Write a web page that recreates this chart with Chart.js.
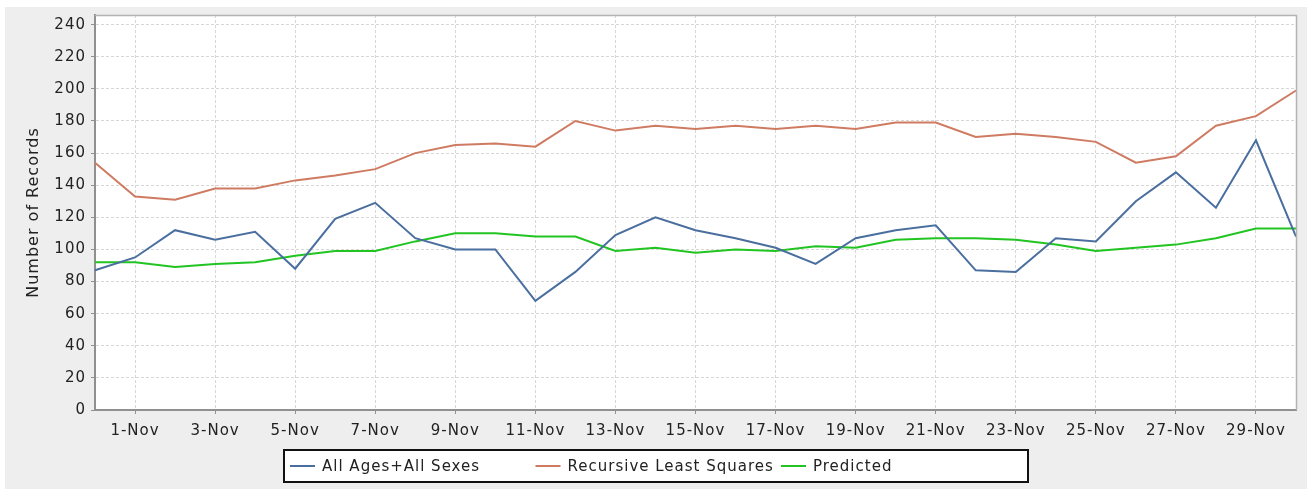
<!DOCTYPE html>
<html>
<head>
<meta charset="utf-8">
<script src="https://cdn.jsdelivr.net/npm/chart.js@4/dist/chart.umd.min.js"></script>
<style>
  html, body { margin: 0; padding: 0; background: #ffffff; }
  #wrap { position: absolute; left: 5px; top: 7px; width: 1302px; height: 482px; }
</style>
</head>
<body>
<div id="wrap"><canvas id="c"></canvas></div>
<script>
const categories = ['31-Oct','1-Nov','2-Nov','3-Nov','4-Nov','5-Nov','6-Nov','7-Nov','8-Nov','9-Nov','10-Nov',
  '11-Nov','12-Nov','13-Nov','14-Nov','15-Nov','16-Nov','17-Nov','18-Nov','19-Nov','20-Nov',
  '21-Nov','22-Nov','23-Nov','24-Nov','25-Nov','26-Nov','27-Nov','28-Nov','29-Nov','30-Nov'];
const allAges = [87,95,112,106,111,88,119,129,107,100,100,68,86,109,120,112,107,101,91,107,112,115,87,86,107,105,130,148,126,168,108];
const recursiveLS = [154,133,131,138,138,143,146,150,160,165,166,164,180,174,177,175,177,175,177,175,179,179,170,172,170,167,154,158,177,183,199];
const predicted = [92,92,89,91,92,96,99,99,105,110,110,108,108,99,101,98,100,99,102,101,106,107,107,106,103,99,101,103,107,113,113];
const seriesNames = ['All Ages+All Sexes','Recursive Least Squares','Predicted'];
const yTickValues = [0,20,40,60,80,100,120,140,160,180,200,220,240];

const FONT = 'DejaVu Sans';
const spacingPlugin = {
  id: 'spacing',
  beforeUpdate(chart) { chart.ctx.letterSpacing = '1px'; },
  beforeDraw(chart) {
    const ctx = chart.ctx;
    ctx.letterSpacing = '1px';
    ctx.save();
    ctx.fillStyle = '#eeeeee';
    ctx.fillRect(0, 0, chart.width, chart.height);
    const a = chart.chartArea;
    ctx.fillStyle = '#ffffff';
    ctx.fillRect(a.left, a.top, a.right - a.left, a.bottom - a.top);
    ctx.restore();
  },
  afterDraw(chart) {
    const ctx = chart.ctx;
    const a = chart.chartArea;
    ctx.save();
    ctx.strokeStyle = '#b4b4b4';
    ctx.lineWidth = 1.5;
    ctx.beginPath();
    ctx.moveTo(a.left, a.top + 0.5);
    ctx.lineTo(a.right + 0.5, a.top + 0.5);
    ctx.lineTo(a.right + 0.5, a.bottom);
    ctx.stroke();
    const bx = 279, by = 443, bw = 744, bh = 32;
    ctx.fillStyle = '#ffffff';
    ctx.fillRect(bx, by, bw, bh);
    ctx.strokeStyle = '#111111';
    ctx.lineWidth = 2;
    ctx.strokeRect(bx, by, bw, bh);
    ctx.font = '15px "' + FONT + '"';
    ctx.textBaseline = 'middle';
    ctx.textAlign = 'left';
    const cy = by + bh / 2;
    chart.data.datasets.forEach((ds, i) => {
      const x0 = 285 + i * 245.5;
      ctx.strokeStyle = ds.borderColor;
      ctx.lineWidth = 2;
      ctx.beginPath();
      ctx.moveTo(x0, cy);
      ctx.lineTo(x0 + 25, cy);
      ctx.stroke();
      ctx.fillStyle = '#222222';
      ctx.fillText(ds.label, x0 + 32, cy + 1);
    });
    ctx.restore();
  }
};

new Chart(document.getElementById('c'), {
  type: 'line',
  data: {
    labels: categories,
    datasets: [
      { label: seriesNames[0], data: allAges, borderColor: '#4a6f9f', borderWidth: 2, pointRadius: 0, tension: 0, fill: false },
      { label: seriesNames[1], data: recursiveLS, borderColor: '#cf7b62', borderWidth: 2, pointRadius: 0, tension: 0, fill: false },
      { label: seriesNames[2], data: predicted, borderColor: '#22c422', borderWidth: 2, pointRadius: 0, tension: 0, fill: false }
    ]
  },
  options: {
    responsive: true,
    maintainAspectRatio: false,
    animation: false,
    layout: { padding: { top: 8, right: 11, bottom: 39, left: 0 } },
    plugins: { legend: { display: false }, tooltip: { enabled: false } },
    scales: {
      x: {
        type: 'category',
        offset: false,
        afterBuildTicks(scale) { scale.ticks = scale.ticks.filter(t => t.value % 2 === 1); },
        afterFit(scale) { scale.height = 40; scale.paddingLeft = 0; scale.paddingRight = 0; },
        ticks: { autoSkip: false, maxRotation: 0, padding: 8, color: '#222222', font: { family: FONT, size: 15 } },
        grid: { color: '#d6d6d6', tickColor: '#909090', tickLength: 4, lineWidth: 1 },
        border: { color: '#909090', width: 2, dash: [3, 2] }
      },
      y: {
        min: 0,
        max: 246,
        afterBuildTicks(scale) { scale.ticks = yTickValues.map(v => ({ value: v })); },
        afterFit(scale) { scale.width = 90; scale.paddingTop = 0; scale.paddingBottom = 0; },
        ticks: { padding: 5, color: '#222222', font: { family: FONT, size: 15 } },
        grid: { color: '#d6d6d6', tickColor: '#909090', tickLength: 4, lineWidth: 1 },
        border: { color: '#909090', width: 2, dash: [3, 2] },
        title: { display: true, text: 'Number of Records', color: '#222222', font: { family: FONT, size: 16 }, padding: { top: 19, bottom: 0 } }
      }
    }
  },
  plugins: [spacingPlugin]
});
</script>
</body>
</html>
